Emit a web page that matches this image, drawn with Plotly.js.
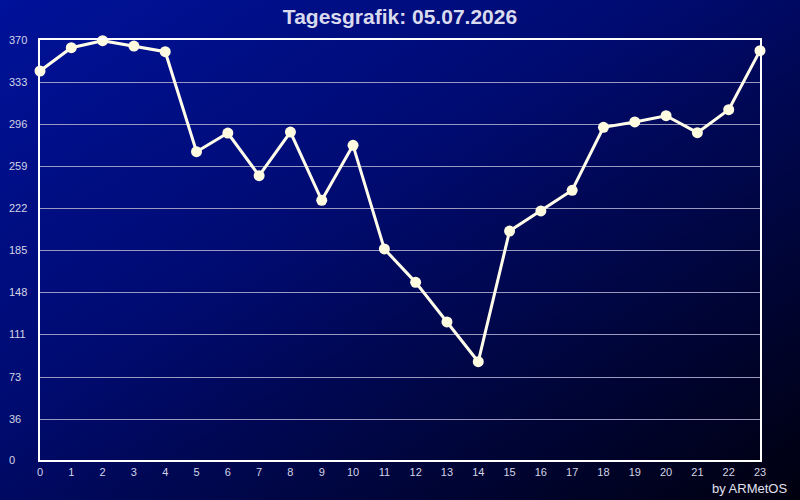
<!DOCTYPE html>
<html>
<head>
<meta charset="utf-8">
<script src="https://cdn.plot.ly/plotly-3.0.1.min.js"></script>
<style>
  body { margin: 0; background: #000; }
  #chart {
    width: 800px; height: 500px;
    background: linear-gradient(to bottom right, #00129a 0%, #000b72 40%, #00053c 72%, #00000e 100%);
  }
</style>
</head>
<body>
<div id="chart"></div>
<script>
// hours of the day and the measured values
var hours = [0,1,2,3,4,5,6,7,8,9,10,11,12,13,14,15,16,17,18,19,20,21,22,23];
var values = [342.7,363.2,369.4,364.7,359.7,271.6,288.0,250.5,288.9,228.8,277.2,185.9,
              156.5,121.6,86.6,201.7,219.4,237.6,293.1,297.8,303.3,288.4,308.6,360.6];
var yTicks = [0,36,73,111,148,185,222,259,296,333,370];

var fontFam = "Liberation Sans, Arial, sans-serif";
var tickCol = "#d4d4e6";

var data = [{
  x: hours,
  y: values,
  type: "scatter",
  mode: "lines+markers",
  line: { color: "#fffcea", width: 3 },
  marker: { color: "#fffbe0", size: 11 },
  cliponaxis: false,
  hoverinfo: "skip"
}];

// y labels sit left-aligned at the image edge, so draw them as annotations
var notes = yTicks.map(function(v){
  return {
    xref: "paper", yref: "y", x: -0.046, y: v,
    xanchor: "left", yanchor: "middle",
    text: String(v), showarrow: false,
    font: { family: fontFam, size: 11, color: tickCol }
  };
});
notes.push({
  xref: "paper", yref: "paper", x: 1.0403, y: -0.068,
  xanchor: "right", yanchor: "middle",
  text: "by ARMetOS", showarrow: false,
  font: { family: fontFam, size: 13, color: "#e2e2f0" }
});

var layout = {
  width: 800, height: 500,
  margin: { l: 40, r: 40, t: 40, b: 40 },
  paper_bgcolor: "rgba(0,0,0,0)",
  plot_bgcolor: "rgba(0,0,0,0)",
  showlegend: false,
  title: {
    text: "<b>Tagesgrafik: 05.07.2026</b>",
    x: 0.5, xanchor: "center",
    y: 0.966, yanchor: "middle", yref: "container",
    font: { family: fontFam, size: 21, color: "#dadaee" }
  },
  xaxis: {
    range: [0, 23],
    tickvals: hours,
    ticktext: hours.map(String),
    showgrid: false, zeroline: false,
    showline: true, mirror: true, linecolor: "#ffffff", linewidth: 2,
    ticks: "", ticklabelstandoff: 1,
    tickfont: { family: fontFam, size: 11, color: tickCol }
  },
  yaxis: {
    range: [0, 370],
    tickvals: yTicks,
    showticklabels: false,
    showgrid: true, gridcolor: "#9a9ac0", gridwidth: 1,
    zeroline: false,
    showline: true, mirror: true, linecolor: "#ffffff", linewidth: 2,
    ticks: ""
  },
  annotations: notes
};

Plotly.newPlot("chart", data, layout, { staticPlot: true });
</script>
</body>
</html>
